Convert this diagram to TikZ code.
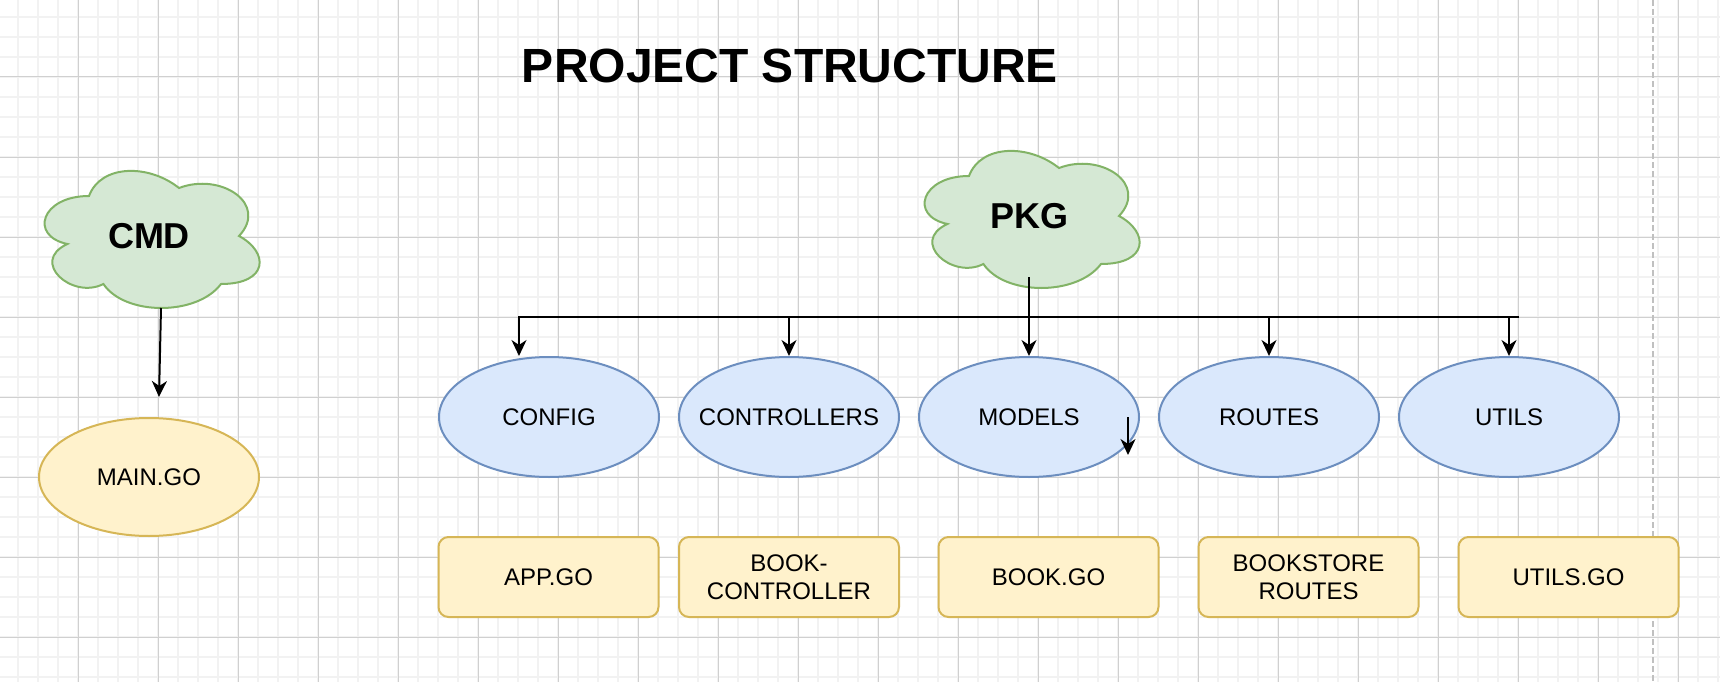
\documentclass[tikz,border=0pt]{standalone}
\usepackage{fontspec}
\setmainfont{Liberation Sans}
\usetikzlibrary{shapes.geometric, arrows.meta, positioning}

\definecolor{gridmajor}{RGB}{208,208,208}
\definecolor{gridminor}{RGB}{242,242,242}
\definecolor{cloudfill}{RGB}{213,232,212}
\definecolor{cloudline}{RGB}{130,179,102}
\definecolor{pkgfill}{RGB}{218,232,252}
\definecolor{pkgline}{RGB}{108,142,191}
\definecolor{filefill}{RGB}{255,242,204}
\definecolor{fileline}{RGB}{214,182,86}
\definecolor{pagebreak}{RGB}{192,192,192}

\tikzstyle{minorgrid} = [gridminor, line width=1.5pt]
\tikzstyle{majorgrid} = [gridmajor, line width=1pt]
\tikzstyle{cloudbody} = [
    fill=cloudfill,
    draw=cloudline,
    line width=2pt
]
\tikzstyle{cloudtext} = [
    font=\fontsize{36}{42}\selectfont\bfseries
]
\tikzstyle{package} = [
    ellipse,
    minimum width=220pt,
    minimum height=120pt,
    inner sep=0pt,
    fill=pkgfill,
    draw=pkgline,
    line width=2pt,
    font=\fontsize{24}{28}\selectfont,
    execute at begin node=\hbox to 0pt\bgroup\hss,
    execute at end node=\hss\egroup
]
\tikzstyle{mainfile} = [
    ellipse,
    minimum width=220pt,
    minimum height=118pt,
    inner sep=0pt,
    fill=filefill,
    draw=fileline,
    line width=2pt,
    font=\fontsize{24}{28}\selectfont
]
\tikzstyle{gofile} = [
    rectangle,
    rounded corners=10pt,
    minimum width=220pt,
    minimum height=80pt,
    inner sep=0pt,
    align=center,
    fill=filefill,
    draw=fileline,
    line width=2pt,
    font=\fontsize{24}{28}\selectfont
]
\tikzstyle{arrow} = [line width=2pt, -{Stealth[length=16pt, width=15pt, inset=5pt]}]

\tikzset{
    drawiocloud/.pic={
        \draw[cloudbody] (60,40)
            .. controls (12,40) and (0,80) .. (38.4,88)
            .. controls (0,105.6) and (43.2,144) .. (74.4,128)
            .. controls (96,160) and (168,160) .. (192,128)
            .. controls (240,128) and (240,96) .. (210,80)
            .. controls (240,48) and (192,16) .. (150,32)
            .. controls (120,8) and (72,8) .. (60,40) -- cycle;
    }
}

\begin{document}
\begin{tikzpicture}[x=1pt, y=-1pt, node distance=240pt]

\fill[white] (0,0) rectangle (1720,682);
\useasboundingbox (0,0) rectangle (1720,682);

% grid
\foreach \gx in {18,38,...,1718} \draw[minorgrid] (\gx,0) -- (\gx,682);
\foreach \gy in {17,37,...,677} \draw[minorgrid] (0,\gy) -- (1720,\gy);
\foreach \gx in {78,158,...,1678} \draw[majorgrid] (\gx,0) -- (\gx,682);
\foreach \gy in {77,157,...,637} \draw[majorgrid] (0,\gy) -- (1720,\gy);
\draw[pagebreak, line width=2pt, dash pattern=on 6pt off 3pt] (1653,0) -- (1653,682);

\node (title) at (790,66) [font=\fontsize{48}{56}\selectfont\bfseries] {PROJECT STRUCTURE};

% clouds
\pic at (29,156) {drawiocloud};
\node (cmd) at (149,236) [cloudtext] {CMD};
\pic at (909,136) {drawiocloud};
\node (pkg) at (1029,216) [cloudtext] {PKG};

\node (main) at (149,477) [mainfile] {MAIN.GO};

\node (config) at (549,417) [package] {CONFIG};
\node (controllers) [package, right of=config] {CONTROLLERS};
\node (models) [package, right of=controllers] {MODELS};
\node (routes) [package, right of=models] {ROUTES};
\node (utils) [package, right of=routes] {UTILS};

\node (appgo) at (548.5,577) [gofile] {APP.GO};
\node (bookctrl) at (789,577) [gofile] {BOOK-\\CONTROLLER};
\node (bookgo) at (1048.5,577) [gofile] {BOOK.GO};
\node (bookroutes) at (1308.5,577) [gofile] {BOOKSTORE\\ROUTES};
\node (utilsgo) at (1568.5,577) [gofile] {UTILS.GO};

\coordinate (cmdout) at (161,308);
\coordinate (mainin) at (159,397);
\coordinate (pkgout) at (1029,277);
\coordinate (busL) at (519,317);
\coordinate (busR) at (1519,317);
\coordinate (strayA) at (1128,417);
\coordinate (strayB) at (1128,455);

\draw [arrow] (cmdout) -- (mainin);
\draw [arrow] (pkgout) -- (models.north);
\draw [arrow] (busR) -- (busL) -- (busL |- config.north);
\draw [arrow] (controllers.north |- busL) -- (controllers.north);
\draw [arrow] (routes.north |- busL) -- (routes.north);
\draw [arrow] (utils.north |- busL) -- (utils.north);
\draw [arrow] (strayA) -- (strayB);

\end{tikzpicture}
\end{document}
